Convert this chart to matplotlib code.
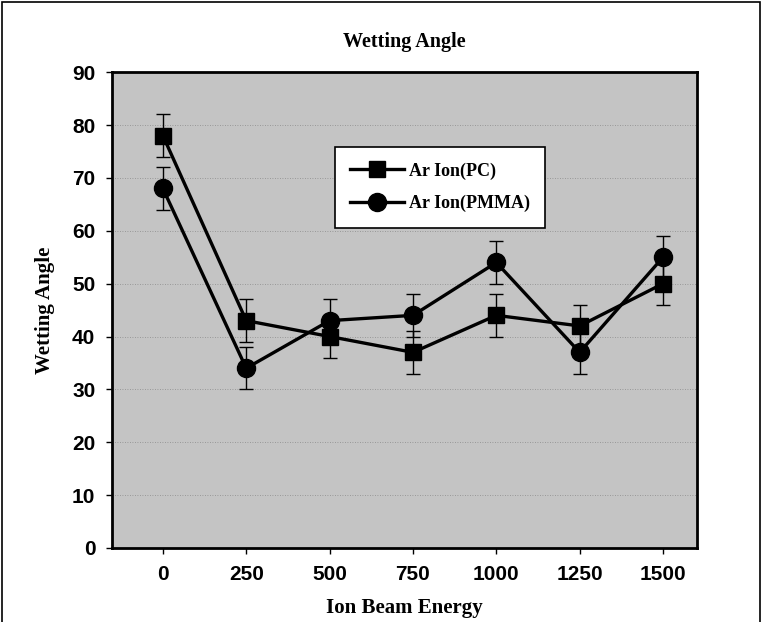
import matplotlib.pyplot as plt
from matplotlib.patches import Rectangle

energies = ["0", "250", "500", "750", "1000", "1250", "1500"]
pc_angle = [78, 43, 40, 37, 44, 42, 50]
pmma_angle = [68, 34, 43, 44, 54, 37, 55]
pc_err = [4, 4, 4, 4, 4, 4, 4]
pmma_err = [4, 4, 4, 4, 4, 4, 4]

serif = "Liberation Serif"
sans = "Liberation Sans"

fig = plt.figure(figsize=(7.62, 6.22), dpi=100)
ax = fig.add_axes([0.147, 0.119, 0.768, 0.765])
ax.set_facecolor("#c4c4c4")

x = list(range(len(energies)))
pc = ax.errorbar(x, pc_angle, yerr=pc_err, color="black", lw=2.4, marker="s",
                 ms=11, capsize=5, elinewidth=1.0, capthick=1.0, label="Ar Ion(PC)")
pm = ax.errorbar(x, pmma_angle, yerr=pmma_err, color="black", lw=2.4, marker="o",
                 ms=13, capsize=5, elinewidth=1.0, capthick=1.0, label="Ar Ion(PMMA)")

ax.set_xlim(-0.61, 6.41)
ax.set_ylim(0, 90)
ax.set_yticks(range(0, 91, 10))
ax.set_xticks(x)
ax.set_xticklabels(energies)
ax.yaxis.grid(True, color="#8a8a8a", lw=0.6, ls=(0, (1, 2)))
ax.set_axisbelow(True)
for s in ax.spines.values():
    s.set_linewidth(2)
ax.tick_params(axis="both", length=4, width=1, labelsize=15, pad=8)
for lab in ax.get_xticklabels() + ax.get_yticklabels():
    lab.set_fontfamily(sans)
    lab.set_fontweight("bold")

ax.set_title("Wetting Angle", fontfamily=serif, fontweight="bold", fontsize=14.5, pad=18)
ax.set_xlabel("Ion Beam Energy", fontfamily=serif, fontweight="bold", fontsize=15, labelpad=10)
ax.set_ylabel("Wetting Angle", fontfamily=serif, fontweight="bold", fontsize=15, labelpad=12)

# legend without the error bar glyphs
leg = ax.legend(handles=[pc.lines[0], pm.lines[0]], labels=["Ar Ion(PC)", "Ar Ion(PMMA)"],
                loc="upper left", bbox_to_anchor=(0.381, 0.843), borderaxespad=0,
                fancybox=False, framealpha=1, edgecolor="black", handlelength=3.0,
                prop={"family": serif, "weight": "bold", "size": 13},
                borderpad=0.85, labelspacing=0.85, handletextpad=0.25)
leg.get_frame().set_linewidth(1.2)

fig.patches.append(Rectangle((0.003, -0.01), 0.994, 1.007, transform=fig.transFigure,
                             fill=False, edgecolor="black", lw=1.2))

fig.savefig("out.png", dpi=100)
